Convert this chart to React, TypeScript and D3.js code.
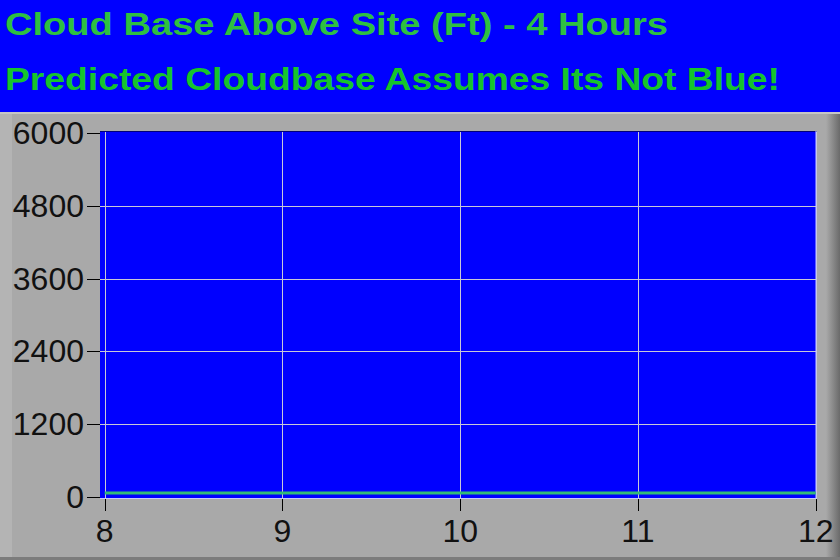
import * as d3 from "d3";

const hours = [8, 9, 10, 11, 12];
const cloudBase = [65, 65, 65, 65, 65];
const yTicks = [0, 1200, 2400, 3600, 4800, 6000];
const xTicks = [8, 9, 10, 11, 12];
const titleLines = [
  "Cloud Base Above Site (Ft) - 4 Hours",
  "Predicted Cloudbase Assumes Its Not Blue!",
];

const W = 840;
const H = 560;
const FONT = "'Liberation Sans', Arial, sans-serif";

export default function App() {
  const x = d3.scaleLinear().domain([8, 12]).range([104.7, 815.7]);
  const y = d3.scaleLinear().domain([0, 6000]).range([497, 133]);

  const line = d3
    .line<number>()
    .x((_d, i) => x(hours[i]))
    .y((d) => y(d));

  const plotLeft = 100;
  const plotTop = 131;
  const plotRight = 816.5;
  const plotBottom = 499;

  // inner grid only; the outer ticks sit on the plot border
  const gridY = yTicks.filter((t) => t > 0 && t < 6000);

  return (
    <svg
      width={W}
      height={H}
      style={{ position: "absolute", left: 0, top: 0, display: "block" }}
    >
      <defs>
        <linearGradient id="rightEdge" x1="0" x2="1" y1="0" y2="0">
          <stop offset="0" stopColor="#a9a9a9" />
          <stop offset="1" stopColor="#6a6a6a" />
        </linearGradient>
      </defs>

      {/* title band */}
      <rect x={0} y={0} width={W} height={112} fill="#0000ff" />
      <text
        x={5}
        y={35}
        fontFamily={FONT}
        fontSize={32}
        fontWeight="bold"
        fill="#2ec040"
        textLength={663}
        lengthAdjust="spacingAndGlyphs"
      >
        {titleLines[0]}
      </text>
      <text
        x={5}
        y={90}
        fontFamily={FONT}
        fontSize={32}
        fontWeight="bold"
        fill="#16c42c"
        textLength={775}
        lengthAdjust="spacingAndGlyphs"
      >
        {titleLines[1]}
      </text>

      {/* grey panel */}
      <rect x={0} y={112} width={W} height={H - 112} fill="#a9a9a9" />
      <rect x={0} y={112} width={12} height={H - 112} fill="#b4b4b4" />
      <rect x={826} y={112} width={14} height={H - 112} fill="url(#rightEdge)" />
      <rect x={0} y={112} width={W} height={2} fill="#c6c6c6" />
      <rect x={0} y={557} width={W} height={3} fill="#7c7c7c" />

      {/* plot area */}
      <rect
        x={plotLeft}
        y={plotTop}
        width={plotRight - plotLeft}
        height={plotBottom - plotTop}
        fill="#0000ff"
      />
      <line x1={plotLeft} x2={plotRight} y1={plotTop + 0.5} y2={plotTop + 0.5} stroke="#00007a" />

      {/* grid */}
      {gridY.map((t) => (
        <line
          key={"gy" + t}
          x1={plotLeft}
          x2={plotRight}
          y1={Math.round(y(t)) + 0.5}
          y2={Math.round(y(t)) + 0.5}
          stroke="#c8c8d8"
        />
      ))}
      {xTicks.map((t) => (
        <line
          key={"gx" + t}
          x1={Math.round(x(t)) + 0.5}
          x2={Math.round(x(t)) + 0.5}
          y1={plotTop + 1}
          y2={plotBottom}
          stroke="#c8c8d8"
        />
      ))}
      <line x1={plotLeft} x2={plotRight} y1={plotBottom - 0.5} y2={plotBottom - 0.5} stroke="#c8c8ff" />
      <line x1={plotRight - 0.5} x2={plotRight - 0.5} y1={plotTop} y2={plotBottom} stroke="#c8c8ff" />

      {/* series */}
      <path d={line(cloudBase) ?? ""} fill="none" stroke="#33bb77" strokeWidth={3} />

      {/* y axis */}
      {yTicks.map((t) => (
        <g key={"ty" + t}>
          <line
            x1={87}
            x2={plotLeft}
            y1={Math.round(y(t)) + 0.5}
            y2={Math.round(y(t)) + 0.5}
            stroke="#000"
          />
          <text
            x={84}
            y={y(t) + 11}
            textAnchor="end"
            fontFamily={FONT}
            fontSize={32}
            fill="#111"
          >
            {t}
          </text>
        </g>
      ))}

      {/* x axis */}
      {xTicks.map((t) => (
        <g key={"tx" + t}>
          <line
            x1={Math.round(x(t)) + 0.5}
            x2={Math.round(x(t)) + 0.5}
            y1={plotBottom}
            y2={511}
            stroke="#000"
          />
          <text
            x={x(t)}
            y={542}
            textAnchor="middle"
            fontFamily={FONT}
            fontSize={32}
            fill="#111"
          >
            {t}
          </text>
        </g>
      ))}
    </svg>
  );
}
